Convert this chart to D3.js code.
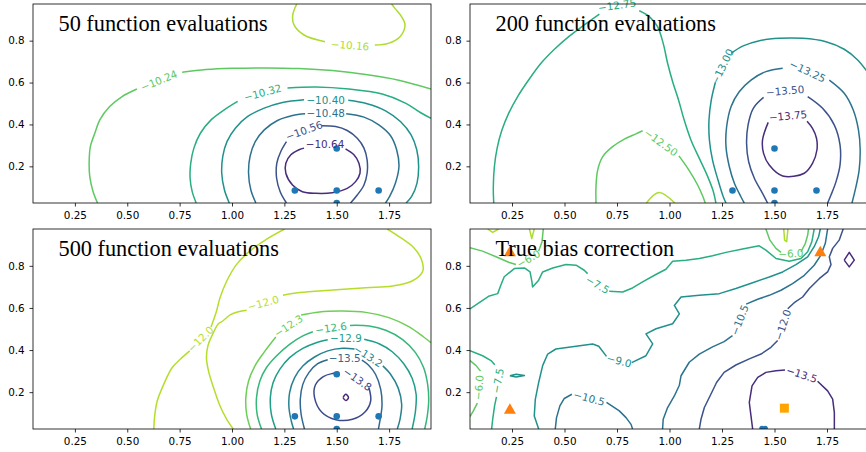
<!DOCTYPE html>
<html>
<head>
<meta charset="utf-8">
<script src="https://cdn.jsdelivr.net/npm/d3@7"></script>
<style>
  body { margin: 0; background: #fff; }
  svg { display: block; }
</style>
</head>
<body>
<svg id="chart" width="866" height="452"></svg>
<script>
// ---- shared axes data ----
const xTicks = [0.25, 0.5, 0.75, 1.0, 1.25, 1.5, 1.75];
const yTicks = [0.2, 0.4, 0.6, 0.8];
const xDomain = [0.05, 1.95];
const yDomain = [0.025, 0.975];

const titles = ["50 function evaluations", "200 function evaluations",
                "500 function evaluations", "True bias correction"];

// evaluation points shown in the three surrogate panels
const sampleX = [1.3, 1.5, 1.7, 1.5, 1.5];
const sampleY = [0.085, 0.085, 0.085, 0.285, 0.025];

// markers of the true bias correction panel
const triangleX = [0.24, 1.718, 0.24];
const triangleY = [0.867, 0.867, 0.119];
const squareX = [1.547];
const squareY = [0.124];
const bestX = [1.44, 1.456];
const bestY = [0.028, 0.028];

// ---- contour levels (outer entries bound the colour map) ----
const levels50  = [-10.72, -10.64, -10.56, -10.48, -10.40, -10.32, -10.24, -10.16, -10.08];
const levels200 = [-14.00, -13.75, -13.50, -13.25, -13.00, -12.75, -12.50, -12.25, -12.00];
const levels500 = [-14.4, -14.1, -13.8, -13.5, -13.2, -12.9, -12.6, -12.3, -12.0, -11.7];
const levelsTrue = [-15.0, -13.5, -12.0, -10.5, -9.0, -7.5, -6.0, -4.5, -3.0];

// ---- contour paths: each level lists its line pieces as [x, y] pairs ----
const contours50 = [
  { level: -10.16, pieces: [
    [[1.309,0.975],[1.29,0.922],[1.296,0.875],[1.344,0.827],[1.444,0.795]],
    [[1.682,0.779],[1.746,0.787],[1.802,0.819],[1.826,0.875],[1.81,0.914],[1.778,0.954],[1.762,0.975]] ]},
  { level: -10.24, pieces: [
    [[0.358,0.025],[0.337,0.079],[0.321,0.151],[0.318,0.215],[0.324,0.295],[0.345,0.358],[0.369,0.422],[0.416,0.486],[0.472,0.531],[0.546,0.569]],
    [[0.762,0.649],[0.876,0.662],[1.003,0.668],[1.162,0.670],[1.32,0.667],[1.479,0.657],[1.638,0.638],[1.796,0.611],[1.95,0.569]] ]},
  { level: -10.32, pieces: [
    [[0.829,0.025],[0.810,0.079],[0.800,0.143],[0.803,0.215],[0.818,0.287],[0.849,0.358],[0.9,0.422],[0.963,0.47],[1.027,0.51]],
    [[1.265,0.574],[1.4,0.579],[1.558,0.569],[1.717,0.545],[1.828,0.502],[1.899,0.457],[1.95,0.429]] ]},
  { level: -10.40, pieces: [
    [[0.987,0.025],[0.964,0.087],[0.951,0.167],[0.956,0.247],[0.976,0.318],[1.016,0.382],[1.075,0.438],[1.154,0.478],[1.241,0.505],[1.344,0.518]],
    [[1.555,0.515],[1.645,0.499],[1.733,0.465],[1.804,0.414],[1.855,0.35],[1.882,0.279],[1.891,0.199],[1.883,0.119],[1.857,0.055],[1.831,0.025]] ]},
  { level: -10.48, pieces: [
    [[1.114,0.025],[1.09,0.087],[1.079,0.167],[1.086,0.247],[1.111,0.318],[1.154,0.374],[1.217,0.419],[1.289,0.443],[1.349,0.451]],
    [[1.545,0.451],[1.63,0.435],[1.701,0.398],[1.757,0.346],[1.786,0.279],[1.797,0.199],[1.78,0.119],[1.752,0.055],[1.733,0.025]] ]},
  { level: -10.56, pieces: [
    [[1.260,0.025],[1.23,0.079],[1.213,0.143],[1.214,0.215],[1.233,0.271],[1.26,0.318]],
    [[1.428,0.394],[1.495,0.39],[1.55,0.371],[1.598,0.334],[1.63,0.287],[1.645,0.231],[1.645,0.167],[1.63,0.111],[1.598,0.063],[1.566,0.025]] ]},
  { level: -10.64, pieces: [
    [[1.542,0.283],[1.582,0.255],[1.606,0.215],[1.611,0.167],[1.59,0.127],[1.55,0.095],[1.479,0.074],[1.4,0.071],[1.336,0.079],[1.289,0.111],[1.257,0.167],[1.257,0.215],[1.281,0.255],[1.32,0.279],[1.344,0.287]] ]}
];
const labels50 = [
  { level: -10.16, x: 1.563, y: 0.779, angle: 4 },
  { level: -10.24, x: 0.651, y: 0.611, angle: -22 },
  { level: -10.32, x: 1.146, y: 0.553, angle: -15 },
  { level: -10.40, x: 1.447, y: 0.518, angle: 0 },
  { level: -10.48, x: 1.447, y: 0.454, angle: 0 },
  { level: -10.56, x: 1.344, y: 0.372, angle: -20 },
  { level: -10.64, x: 1.444, y: 0.305, angle: 0 }
];

const contours200 = [
  { level: -12.25, pieces: [ [[0.89,0.025],[0.95,0.075],[1.025,0.025]] ]},
  { level: -12.50, pieces: [
    [[0.65,0.025],[0.65,0.103],[0.658,0.182],[0.682,0.246],[0.729,0.294],[0.785,0.33],[0.84,0.355],[0.872,0.37]],
    [[1.045,0.25],[1.094,0.18],[1.134,0.111],[1.158,0.058],[1.17,0.025]] ]},
  { level: -12.75, pieces: [
    [[0.163,0.025],[0.161,0.103],[0.166,0.198],[0.179,0.286],[0.202,0.373],[0.234,0.453],[0.277,0.533],[0.329,0.612],[0.388,0.692],[0.452,0.759],[0.523,0.822],[0.594,0.875],[0.666,0.927]],
    [[0.856,0.943],[0.904,0.915],[0.943,0.867],[0.97,0.787],[0.991,0.692],[1.015,0.604],[1.043,0.517],[1.07,0.421],[1.102,0.326],[1.142,0.238],[1.182,0.151],[1.209,0.079],[1.221,0.025]] ]},
  { level: -13.00, pieces: [
    [[1.293,0.739],[1.348,0.774],[1.428,0.8],[1.523,0.811],[1.634,0.811],[1.745,0.795],[1.832,0.759],[1.896,0.708],[1.95,0.64]],
    [[1.218,0.599],[1.199,0.517],[1.188,0.421],[1.19,0.326],[1.205,0.23],[1.231,0.135],[1.256,0.055],[1.269,0.025]] ]},
  { level: -13.25, pieces: [
    [[1.356,0.025],[1.34,0.055],[1.309,0.119],[1.285,0.198],[1.269,0.294],[1.272,0.389],[1.293,0.485],[1.332,0.556],[1.388,0.612],[1.459,0.652],[1.539,0.668]],
    [[1.761,0.612],[1.832,0.549],[1.875,0.469],[1.9,0.373],[1.908,0.278],[1.903,0.182],[1.888,0.103],[1.869,0.025]] ]},
  { level: -13.50, pieces: [
    [[1.467,0.025],[1.443,0.071],[1.404,0.143],[1.377,0.222],[1.367,0.31],[1.374,0.397],[1.399,0.477],[1.448,0.529]],
    [[1.658,0.533],[1.729,0.477],[1.785,0.397],[1.812,0.302],[1.812,0.206],[1.793,0.127],[1.769,0.063],[1.753,0.025]] ]},
  { level: -13.75, pieces: [
    [[1.655,0.415],[1.681,0.381],[1.7,0.334],[1.702,0.278],[1.681,0.214],[1.642,0.167],[1.539,0.154],[1.475,0.206],[1.448,0.262],[1.443,0.326],[1.47,0.41]] ]}
];
const labels200 = [
  { level: -12.50, x: 0.96, y: 0.315, angle: 36 },
  { level: -12.75, x: 0.75, y: 0.97, angle: -8 },
  { level: -13.00, x: 1.25, y: 0.676, angle: -64 },
  { level: -13.25, x: 1.658, y: 0.655, angle: 25 },
  { level: -13.50, x: 1.55, y: 0.562, angle: -5 },
  { level: -13.75, x: 1.564, y: 0.442, angle: -5 }
];

const contours500 = [
  { level: -12.0, pieces: [
    [[0.627,0.025],[0.63,0.079],[0.643,0.158],[0.674,0.237],[0.714,0.316],[0.753,0.356],[0.798,0.396]],
    [[0.9,0.51],[0.924,0.578],[0.943,0.649],[0.975,0.728],[1.022,0.807],[1.085,0.87],[1.164,0.926],[1.251,0.975]],
    [[1.006,0.025],[0.975,0.071],[0.943,0.134],[0.912,0.221],[0.888,0.3],[0.878,0.364],[0.885,0.42],[0.91,0.48],[0.935,0.525],[0.956,0.538],[0.991,0.567],[1.03,0.582],[1.07,0.589]],
    [[1.243,0.66],[1.323,0.673],[1.481,0.685],[1.639,0.696],[1.765,0.704],[1.86,0.728],[1.911,0.776],[1.904,0.831],[1.868,0.886],[1.805,0.934],[1.741,0.975]] ]},
  { level: -12.3, pieces: [
    [[1.089,0.025],[1.07,0.095],[1.066,0.174],[1.079,0.253],[1.109,0.324],[1.152,0.388],[1.209,0.462]],
    [[1.33,0.566],[1.417,0.581],[1.528,0.585],[1.639,0.579],[1.749,0.554],[1.844,0.511],[1.915,0.462],[1.95,0.435]] ]},
  { level: -12.6, pieces: [
    [[1.141,0.025],[1.12,0.095],[1.117,0.174],[1.133,0.253],[1.164,0.316],[1.212,0.372],[1.275,0.427],[1.338,0.467],[1.386,0.487]],
    [[1.563,0.517],[1.655,0.514],[1.734,0.494],[1.813,0.451],[1.876,0.388],[1.915,0.316],[1.934,0.237],[1.939,0.158],[1.931,0.079],[1.92,0.025]] ]},
  { level: -12.9, pieces: [
    [[1.209,0.025],[1.188,0.095],[1.183,0.174],[1.196,0.245],[1.228,0.308],[1.275,0.364],[1.338,0.408],[1.402,0.435],[1.457,0.449]],
    [[1.631,0.451],[1.702,0.43],[1.765,0.392],[1.82,0.335],[1.86,0.266],[1.879,0.19],[1.876,0.111],[1.86,0.025]] ]},
  { level: -13.2, pieces: [
    [[1.294,0.025],[1.283,0.063],[1.272,0.126],[1.275,0.198],[1.299,0.269],[1.338,0.324],[1.394,0.367],[1.457,0.396],[1.528,0.408],[1.585,0.405]],
    [[1.72,0.325],[1.757,0.285],[1.794,0.218],[1.81,0.142],[1.802,0.071],[1.789,0.025]] ]},
  { level: -13.5, pieces: [
    [[1.346,0.025],[1.33,0.095],[1.326,0.166],[1.338,0.237],[1.367,0.293],[1.409,0.335],[1.457,0.354]],
    [[1.62,0.352],[1.65,0.33],[1.685,0.285],[1.71,0.213],[1.716,0.134],[1.706,0.063],[1.699,0.025]] ]},
  { level: -13.8, pieces: [
    [[1.654,0.221],[1.662,0.158],[1.636,0.107],[1.575,0.071],[1.496,0.069],[1.43,0.103],[1.394,0.174],[1.398,0.234],[1.436,0.274],[1.481,0.289],[1.512,0.293]] ]},
  { level: -14.1, pieces: [
    [[1.53,0.174],[1.543,0.19],[1.556,0.175],[1.543,0.16],[1.53,0.174]] ]}
];
const labels500 = [
  { level: -12.0, x: 0.849, y: 0.453, angle: -45 },
  { level: -12.0, x: 1.149, y: 0.625, angle: -15 },
  { level: -12.3, x: 1.269, y: 0.516, angle: -33 },
  { level: -12.6, x: 1.473, y: 0.506, angle: -8 },
  { level: -12.9, x: 1.544, y: 0.459, angle: 0 },
  { level: -13.2, x: 1.651, y: 0.372, angle: 33 },
  { level: -13.5, x: 1.538, y: 0.361, angle: 0 },
  { level: -13.8, x: 1.6, y: 0.262, angle: 35 }
];

const contoursTrue = [
  { level: -4.5, pieces: [
    [[0.134,0.975],[0.158,0.959],[0.186,0.975]],
    [[0.333,0.975],[0.344,0.93],[0.356,0.975]],
    [[1.544,0.975],[1.548,0.922],[1.558,0.915],[1.564,0.975]] ]},
  { level: -6.0, pieces: [
    [[0.05,0.886],[0.11,0.87],[0.174,0.843],[0.237,0.816],[0.269,0.806]],
    [[0.377,0.87],[0.393,0.915],[0.399,0.975]],
    [[1.459,0.975],[1.478,0.922],[1.507,0.883],[1.531,0.864]],
    [[1.626,0.867],[1.647,0.907],[1.658,0.946],[1.662,0.975]],
    [[0.05,0.35],[0.079,0.326],[0.1,0.3]],
    [[0.085,0.148],[0.066,0.111],[0.05,0.084]] ]},
  { level: -7.5, pieces: [
    [[0.05,0.596],[0.094,0.625],[0.142,0.657],[0.182,0.668],[0.198,0.711],[0.213,0.748],[0.261,0.787],[0.309,0.79],[0.336,0.771],[0.345,0.724],[0.348,0.7],[0.377,0.732],[0.396,0.771],[0.444,0.79],[0.507,0.806],[0.555,0.803],[0.594,0.779],[0.61,0.763]],
    [[0.713,0.679],[0.777,0.676],[0.824,0.695],[0.872,0.724],[0.935,0.759],[0.983,0.784],[1.015,0.822],[1.078,0.827],[1.142,0.835],[1.205,0.848],[1.269,0.864],[1.348,0.88],[1.427,0.895],[1.459,0.875],[1.507,0.835],[1.57,0.822],[1.626,0.835],[1.658,0.867],[1.678,0.915],[1.689,0.975]],
    [[0.05,0.397],[0.11,0.373],[0.15,0.35],[0.168,0.33]],
    [[0.176,0.178],[0.167,0.135],[0.158,0.071],[0.153,0.025]] ]},
  { level: -9.0, pieces: [
    [[0.377,0.025],[0.356,0.087],[0.361,0.166],[0.377,0.246],[0.396,0.326],[0.42,0.381],[0.459,0.405],[0.555,0.418],[0.634,0.429],[0.663,0.418],[0.7,0.37]],
    [[0.82,0.34],[0.888,0.373],[0.92,0.429],[0.888,0.477],[0.936,0.501],[1.015,0.525],[1.047,0.572],[1.023,0.612],[1.055,0.652],[1.142,0.66],[1.237,0.668],[1.316,0.692],[1.396,0.72],[1.475,0.747],[1.539,0.771],[1.602,0.806],[1.658,0.843],[1.689,0.891],[1.71,0.938],[1.718,0.975]],
    [[0.24,0.278],[0.27,0.285],[0.309,0.279],[0.27,0.272],[0.24,0.278]] ]},
  { level: -10.5, pieces: [
    [[0.456,0.025],[0.462,0.079],[0.478,0.135],[0.499,0.17],[0.535,0.19]],
    [[0.7,0.152],[0.761,0.111],[0.793,0.079],[0.817,0.047],[0.824,0.025]],
    [[0.967,0.025],[0.97,0.071],[0.991,0.127],[1.023,0.182],[1.047,0.233],[1.055,0.278],[1.094,0.342],[1.142,0.381],[1.205,0.415],[1.26,0.44],[1.3,0.468]],
    [[1.365,0.618],[1.42,0.641],[1.475,0.66],[1.531,0.684],[1.586,0.716],[1.642,0.755],[1.689,0.803],[1.721,0.851],[1.742,0.907],[1.753,0.975]] ]},
  { level: -12.0, pieces: [
    [[1.142,0.025],[1.15,0.071],[1.166,0.127],[1.197,0.19],[1.224,0.246],[1.26,0.294],[1.316,0.329],[1.38,0.358],[1.436,0.381],[1.483,0.413],[1.515,0.445]],
    [[1.563,0.596],[1.594,0.625],[1.634,0.652],[1.666,0.692],[1.713,0.739],[1.753,0.771],[1.769,0.806],[1.761,0.843],[1.777,0.883],[1.808,0.922],[1.827,0.975]] ]},
  { level: -13.5, pieces: [
    [[1.396,0.025],[1.388,0.087],[1.38,0.151],[1.393,0.23],[1.42,0.27],[1.459,0.294],[1.507,0.302],[1.55,0.305]],
    [[1.705,0.252],[1.753,0.206],[1.777,0.167],[1.785,0.103],[1.785,0.025]],
    [[1.832,0.827],[1.856,0.864],[1.88,0.827],[1.856,0.795],[1.832,0.827]] ]}
];
const labelsTrue = [
  { level: -6.0, x: 0.328, y: 0.835, angle: -30 },
  { level: -6.0, x: 1.578, y: 0.859, angle: -3 },
  { level: -6.0, x: 0.091, y: 0.222, angle: -85 },
  { level: -7.5, x: 0.658, y: 0.711, angle: 30 },
  { level: -7.5, x: 0.182, y: 0.254, angle: -80 },
  { level: -9.0, x: 0.761, y: 0.35, angle: 15 },
  { level: -10.5, x: 0.618, y: 0.172, angle: 15 },
  { level: -10.5, x: 1.333, y: 0.543, angle: -69 },
  { level: -12.0, x: 1.539, y: 0.52, angle: -72 },
  { level: -13.5, x: 1.63, y: 0.285, angle: 18 }
];

// ---- drawing ----
const svg = d3.select("#chart");
const fmt2 = v => d3.format(".2f")(v).replace("-", "\u2212");
const fmt1 = v => d3.format(".1f")(v).replace("-", "\u2212");

const panels = [
  { box: [33, 4, 431, 203], title: titles[0], levels: levels50, lines: contours50, labels: labels50, fmt: fmt2, smooth: true, samples: true },
  { box: [470, 4, 869, 203], title: titles[1], levels: levels200, lines: contours200, labels: labels200, fmt: fmt2, smooth: true, samples: true },
  { box: [33, 229, 431, 429], title: titles[2], levels: levels500, lines: contours500, labels: labels500, fmt: fmt1, smooth: true, samples: true },
  { box: [470, 229, 869, 429], title: titles[3], levels: levelsTrue, lines: contoursTrue, labels: labelsTrue, fmt: fmt1, smooth: false, samples: false }
];

panels.forEach((p, i) => {
  const [x0, y0, x1, y1] = p.box;
  const x = d3.scaleLinear().domain(xDomain).range([x0, x1]);
  const y = d3.scaleLinear().domain(yDomain).range([y1, y0]);
  const lo = p.levels[0], hi = p.levels[p.levels.length - 1];
  const color = v => d3.interpolateViridis((v - lo) / (hi - lo));

  const clipId = "clip" + i;
  svg.append("clipPath").attr("id", clipId)
    .append("rect").attr("x", x0).attr("y", y0).attr("width", x1 - x0).attr("height", y1 - y0);

  const g = svg.append("g");
  const plot = g.append("g").attr("clip-path", `url(#${clipId})`);

  const line = d3.line().x(d => x(d[0])).y(d => y(d[1]))
    .curve(p.smooth ? d3.curveCatmullRom.alpha(0.5) : d3.curveLinear);

  p.lines.forEach(c => {
    c.pieces.forEach(pts => {
      plot.append("path")
        .attr("d", line(pts))
        .attr("fill", "none")
        .attr("stroke", color(c.level))
        .attr("stroke-width", 1.5)
        .attr("stroke-linejoin", "round");
    });
  });

  g.selectAll("text.clabel").data(p.labels).join("text")
    .attr("class", "clabel")
    .attr("transform", d => `translate(${x(d.x)},${y(d.y)}) rotate(${d.angle})`)
    .attr("text-anchor", "middle")
    .attr("dominant-baseline", "central")
    .attr("font-family", "DejaVu Sans")
    .attr("font-size", 10.4)
    .attr("fill", d => color(d.level))
    .text(d => p.fmt(d.level));

  if (p.samples) {
    plot.selectAll("circle.sample").data(sampleX).join("circle")
      .attr("class", "sample")
      .attr("cx", d => x(d))
      .attr("cy", (d, k) => y(sampleY[k]))
      .attr("r", 3.3)
      .attr("fill", "#1f77b4");
  } else {
    plot.selectAll("path.tri").data(triangleX).join("path")
      .attr("class", "tri")
      .attr("transform", (d, k) => `translate(${x(d)},${y(triangleY[k]) + 1})`)
      .attr("d", d3.symbol(d3.symbolTriangle, 62))
      .attr("fill", "#ff7f0e");
    plot.selectAll("rect.sq").data(squareX).join("rect")
      .attr("class", "sq")
      .attr("x", d => x(d) - 4.5)
      .attr("y", (d, k) => y(squareY[k]) - 4.5)
      .attr("width", 9).attr("height", 9)
      .attr("fill", "#ffa500");
    plot.selectAll("circle.best").data(bestX).join("circle")
      .attr("class", "best")
      .attr("cx", d => x(d))
      .attr("cy", (d, k) => y(bestY[k]))
      .attr("r", 2.6)
      .attr("fill", "#1f77b4");
  }

  // axes
  const xAxis = d3.axisBottom(x).tickValues(xTicks).tickFormat(d3.format(".2f"))
    .tickSize(3.5).tickSizeOuter(0).tickPadding(5.4);
  const yAxis = d3.axisLeft(y).tickValues(yTicks).tickFormat(d3.format(".1f"))
    .tickSize(3.5).tickSizeOuter(0).tickPadding(4.8);
  const gx = g.append("g").attr("transform", `translate(0,${y1})`).call(xAxis);
  const gy = g.append("g").attr("transform", `translate(${x0},0)`).call(yAxis);
  [gx, gy].forEach(a => {
    a.select(".domain").remove();
    a.selectAll("line").attr("stroke", "#000").attr("stroke-width", 0.8);
    a.selectAll("text").attr("font-family", "DejaVu Sans").attr("font-size", 10.4).attr("fill", "#000");
  });

  g.append("rect")
    .attr("x", x0).attr("y", y0).attr("width", x1 - x0).attr("height", y1 - y0)
    .attr("fill", "none").attr("stroke", "#000").attr("stroke-width", 0.8);

  g.append("text")
    .attr("x", x0 + 25.5).attr("y", y0 + 27)
    .attr("font-family", "Liberation Serif")
    .attr("font-size", 22.3)
    .attr("fill", "#000")
    .text(p.title);
});
</script>
</body>
</html>
